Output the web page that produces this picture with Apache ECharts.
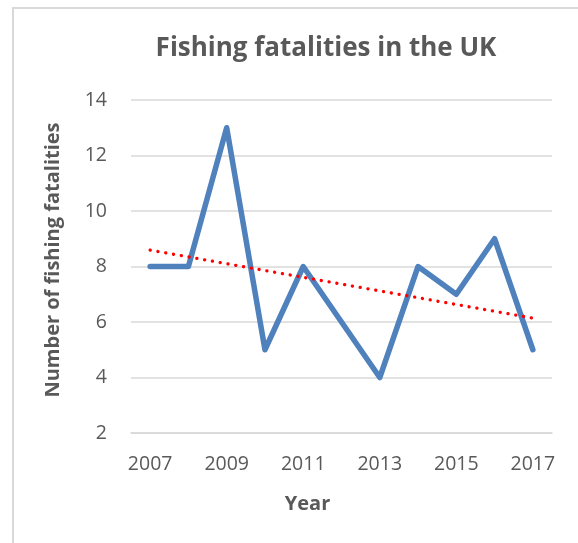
<!DOCTYPE html>
<html>
<head>
<meta charset="utf-8">
<script src="https://cdn.jsdelivr.net/npm/echarts@6/dist/echarts.min.js"></script>
<style>
  html, body { margin: 0; padding: 0; background: #fff; }
  #chart { width: 578px; height: 543px; }
</style>
</head>
<body>
<div id="chart"></div>
<script>
// Annual fishing fatalities in the UK
const years = ['2007', '2008', '2009', '2010', '2011', '2012', '2013', '2014', '2015', '2016', '2017'];
const fatalities = [8, 8, 13, 5, 8, 6, 4, 8, 7, 9, 5];
// Linear trend line: value at the first and last year
const trendEnds = [8.59, 6.14];
const yTicks = [2, 4, 6, 8, 10, 12, 14];

const FONT = '"Open Sans", "Liberation Sans", sans-serif';
const TEXT = '#595959';

const trendData = years.map((y, i) =>
  i === 0 ? trendEnds[0] : (i === years.length - 1 ? trendEnds[1] : null));

const chart = echarts.init(document.getElementById('chart'), null, { renderer: 'canvas' });
chart.setOption({
  animation: false,
  backgroundColor: '#fff',
  graphic: [{
    type: 'rect',
    shape: { x: 13, y: 8, width: 600, height: 560 },
    style: { fill: 'none', stroke: '#d9d9d9', lineWidth: 2 },
    silent: true
  }, {
    // vertical axis title
    type: 'text',
    x: 53, y: 260,
    rotation: Math.PI / 2,
    style: {
      text: 'Number of fishing fatalities',
      font: 'bold 20px ' + FONT,
      fill: TEXT,
      textAlign: 'center',
      textVerticalAlign: 'middle'
    },
    silent: true
  }],
  title: {
    text: 'Fishing fatalities in the UK',
    left: 321, top: 31, textAlign: 'center',
    textStyle: { fontFamily: FONT, fontSize: 26, fontWeight: 'bold', color: TEXT }
  },
  grid: { left: 131, right: 26, top: 100, bottom: 110 },
  xAxis: {
    type: 'category',
    data: years,
    boundaryGap: true,
    name: 'Year',
    nameLocation: 'middle',
    nameGap: 61,
    nameTextStyle: { fontFamily: FONT, fontSize: 20, fontWeight: 'bold', color: TEXT, padding: [0, 68, 0, 0] },
    axisLine: { show: true, lineStyle: { color: '#d9d9d9', width: 1.5 } },
    axisTick: { show: false },
    axisLabel: { interval: 1, fontFamily: FONT, fontSize: 19.5, color: TEXT, margin: 21 }
  },
  yAxis: {
    type: 'value',
    min: yTicks[0], max: yTicks[yTicks.length - 1], interval: 2,
    axisLine: { show: false },
    axisTick: { show: false },
    axisLabel: { fontFamily: FONT, fontSize: 19.5, color: TEXT, margin: 24 },
    splitLine: { lineStyle: { color: '#d9d9d9', width: 1.5 } }
  },
  series: [{
    type: 'line',
    data: fatalities,
    symbol: 'none',
    lineStyle: { color: '#4f81bd', width: 5.5, cap: 'round', join: 'round' },
    z: 2
  }, {
    type: 'line',
    data: trendData,
    connectNulls: true,
    symbol: 'none',
    lineStyle: { color: '#ff0000', width: 3.3, type: [0.1, 7.8], cap: 'round' },
    z: 3
  }]
});
</script>
</body>
</html>
